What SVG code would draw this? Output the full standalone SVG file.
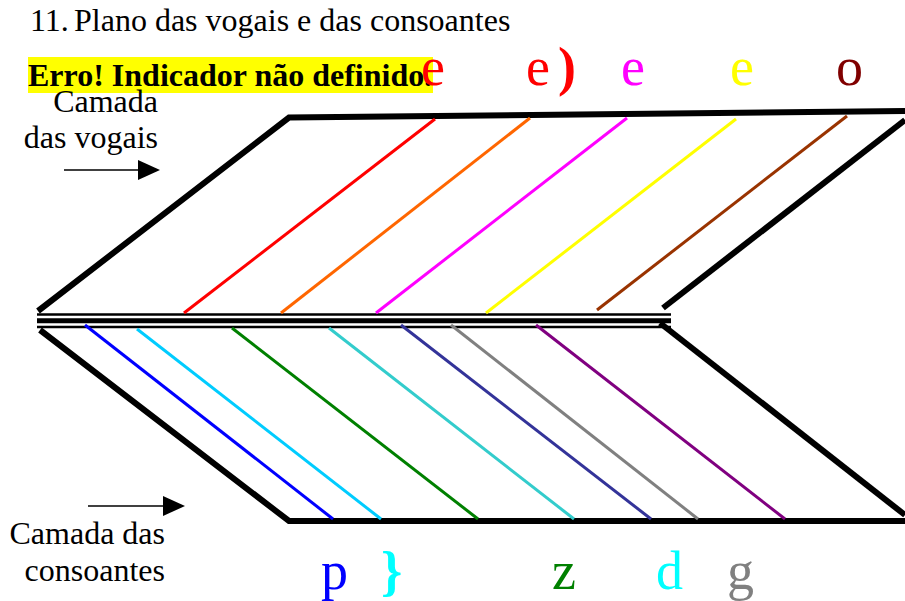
<svg xmlns="http://www.w3.org/2000/svg" width="905" height="601" viewBox="0 0 905 601">
<style>
.t{font-family:"Liberation Serif","Times New Roman",serif;font-size:32px;fill:#000}
.b{font-weight:bold}
.ph{font-family:"Liberation Serif","Times New Roman",serif;font-size:54px}
.frame{fill:none;stroke:#000;stroke-width:6;stroke-linejoin:miter}
.bar{stroke:#000}
.c{stroke-width:3;fill:none}
.arr{stroke:#000;stroke-width:1.6;fill:none}
</style>
<defs>
<marker id="ah" viewBox="0 0 22 20" refX="0" refY="10" markerWidth="22" markerHeight="20" markerUnits="userSpaceOnUse" orient="auto">
<path d="M0,0 L22,10 L0,20 Z" fill="#000"/>
</marker>
</defs>
<rect width="905" height="601" fill="#fff"/>
<g id="title">
<text class="t" x="30" y="31">11.</text>
<text class="t" x="74" y="31">Plano das vogais e das consoantes</text>
</g>
<g id="error">
<rect x="28" y="57" width="405" height="36" fill="#ffff00"/>
<text class="t b" x="28" y="86">Erro! Indicador não definido.</text>
</g>
<g id="frame">
<polyline class="frame" points="905,111 289,117.5 38,311"/>
<polyline class="frame" points="40,330 289,521 905,521"/>
<line class="frame" x1="663" y1="308" x2="905" y2="120"/>
<line class="frame" x1="660" y1="323" x2="905" y2="515"/>
<line class="bar" x1="37" y1="314.5" x2="671" y2="314.5" stroke-width="2.7"/>
<line class="bar" x1="37" y1="320.8" x2="671" y2="320.8" stroke-width="5"/>
<line class="bar" x1="37" y1="327" x2="671" y2="327" stroke-width="2.7"/>
</g>
<g id="connectors">
<line class="c" stroke="#ff0000" x1="435" y1="119" x2="184" y2="313"/>
<line class="c" stroke="#ff6600" x1="530" y1="118" x2="281" y2="313"/>
<line class="c" stroke="#ff00ff" x1="627" y1="118" x2="376" y2="313"/>
<line class="c" stroke="#ffff00" x1="736" y1="119" x2="486" y2="313"/>
<line class="c" stroke="#993300" x1="847" y1="116" x2="597" y2="310"/>
<line class="c" stroke="#0000ff" x1="85" y1="325" x2="333" y2="519"/>
<line class="c" stroke="#00ccff" x1="137" y1="329" x2="381" y2="519"/>
<line class="c" stroke="#008000" x1="232" y1="328" x2="478" y2="519"/>
<line class="c" stroke="#33cccc" x1="329" y1="328" x2="574" y2="519"/>
<line class="c" stroke="#333399" x1="401" y1="325" x2="651" y2="519"/>
<line class="c" stroke="#808080" x1="451" y1="325" x2="698" y2="519"/>
<line class="c" stroke="#800080" x1="536" y1="325" x2="785" y2="519"/>
<line class="arr" x1="64" y1="170" x2="138" y2="170" marker-end="url(#ah)"/>
<line class="arr" x1="88" y1="506" x2="163" y2="506" marker-end="url(#ah)"/>
</g>
<g id="label-vogais">
<text class="t" x="158" y="112" text-anchor="end">Camada</text>
<text class="t" x="158" y="148" text-anchor="end">das vogais</text>
</g>
<g id="label-consoantes">
<text class="t" x="165" y="544" text-anchor="end">Camada das</text>
<text class="t" x="165" y="581" text-anchor="end">consoantes</text>
</g>
<g id="vowels">
<text class="ph" x="421" y="85" fill="#ff0000">e</text>
<text class="ph" x="526" y="85" fill="#ff0000">e<tspan dx="8" font-weight="bold">)</tspan></text>
<text class="ph" x="621" y="85" fill="#ff00ff">e</text>
<text class="ph" x="730" y="85" fill="#ffff00">e</text>
<text class="ph" x="836" y="85" fill="#800000">o</text>
</g>
<g id="consonants">
<text class="ph" x="321" y="589" fill="#0000ff">p</text>
<text class="ph" x="381" y="589" fill="#00ffff" font-weight="bold" font-size="46">}</text>
<text class="ph" x="552" y="589" fill="#008000">z</text>
<text class="ph" x="656" y="589" fill="#00ffff">d</text>
<text class="ph" x="727" y="589" fill="#808080">g</text>
</g>
</svg>
